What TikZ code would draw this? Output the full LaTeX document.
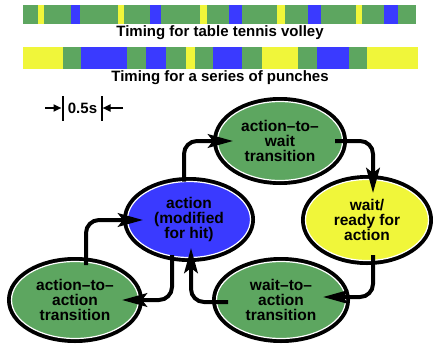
\documentclass[tikz,border=0pt]{standalone}
\usepackage{fontspec}
\setmainfont{Liberation Sans}
\usetikzlibrary{shapes.geometric,arrows.meta,calc}
\definecolor{stgreen}{RGB}{93,166,96}
\definecolor{stblue}{RGB}{58,58,255}
\definecolor{styellow}{RGB}{240,246,58}
\begin{document}
\begin{tikzpicture}[x=1pt,y=-1pt,
  phase/.style={ellipse, inner sep=0pt, fill=#1, draw=white, line width=1.2pt,
    preaction={draw=black, line width=9pt},
    font=\fontsize{15.5}{15}\selectfont\bfseries, align=center},
  caption/.style={font=\fontsize{15}{15}\selectfont\bfseries, inner sep=0pt},
  flow/.style={line width=4pt, rounded corners=13pt,
    -{Stealth[length=25pt,width=13.5pt,inset=5pt]}},
  tick/.style={line width=2pt},
  pointer/.style={line width=2pt, -{Triangle[length=8pt,width=7pt]}},
]
\useasboundingbox (0,0) rectangle (433,345);

% timing strips
\foreach \a/\b/\c in {23/37.7/stgreen, 37.7/44/styellow, 44/71/stgreen, 71/80/stblue,
    80/118.3/stgreen, 118.3/124/styellow, 124/150/stgreen, 150/161/stblue,
    161/200/stgreen, 200/207/styellow, 207/229/stgreen, 229/241.7/stblue,
    241.7/277.3/stgreen, 277.3/285/styellow, 285/307.7/stgreen, 307.7/321/stblue,
    321/356/stgreen, 356/362/styellow, 362/384/stgreen, 384/398.3/stblue,
    398.3/416/stgreen}
  \fill[\c] (\a,5) rectangle (\b,24);
\node[caption] (cap1) at (220,33) {Timing for table tennis volley};

\foreach \a/\b/\c in {23/63/styellow, 63/81/stgreen, 81/127/stblue, 127/146/stgreen,
    146/166/stblue, 166/186/stgreen, 186/195/styellow, 195/213/stgreen,
    213/242/stblue, 242/262/stgreen, 262/298/styellow, 298/316.7/stgreen,
    316.7/349/stblue, 349/367/stgreen, 367/418/styellow}
  \fill[\c] (\a,47.3) rectangle (\b,69);
\node[caption] (cap2) at (220,78) {Timing for a series of punches};

% half-second scale marker
\node[caption] (scale) at (82.5,108) {0.5s};
\coordinate (barL) at (62.5,108);
\coordinate (barR) at (101.5,108);
\draw[tick] ($(barL)+(0,-12)$) -- ($(barL)+(0,13)$);
\draw[tick] ($(barR)+(0,-12)$) -- ($(barR)+(0,13)$);
\coordinate (inL) at (45,108);
\coordinate (inR) at (123,108);
\draw[pointer] (inL) -- ($(barL)+(-1,0)$);
\draw[pointer] (inR) -- ($(barR)+(1,0)$);

% cycle of phases
\node[phase=stgreen, minimum width=125pt, minimum height=79pt] (atw) at (280,141)
  {action–to–\\wait\\transition};
\node[phase=styellow, minimum width=123pt, minimum height=81pt] (wait) at (367,220)
  {wait/\\ready for\\action};
\node[phase=stblue, minimum width=123pt, minimum height=76pt] (act) at (189,219.5)
  {action\\(modified\\for hit)};
\node[phase=stgreen, minimum width=127pt, minimum height=77pt] (ata) at (75,300)
  {action–to–\\action\\transition};
\node[phase=stgreen, minimum width=129pt, minimum height=77pt] (wta) at (281,300)
  {wait–to–\\action\\transition};

\draw[flow] ($(act)+(-5,-38)$) |- ($(atw)+(-47,0)$);
\draw[flow] ($(atw)+(55,0)$) -| ($(wait)+(6,-27)$);
\draw[flow] ($(wait)+(6,35)$) |- ($(wta)+(42,-3)$);
\draw[flow] ($(wta)+(-53,2)$) -| ($(act)+(2,28.5)$);
\draw[flow] ($(act)+(-17,35.5)$) |- ($(ata)+(47,0)$);
\draw[flow] ($(ata)+(11,-35)$) |- ($(act)+(-46,0.5)$);
\end{tikzpicture}
\end{document}
